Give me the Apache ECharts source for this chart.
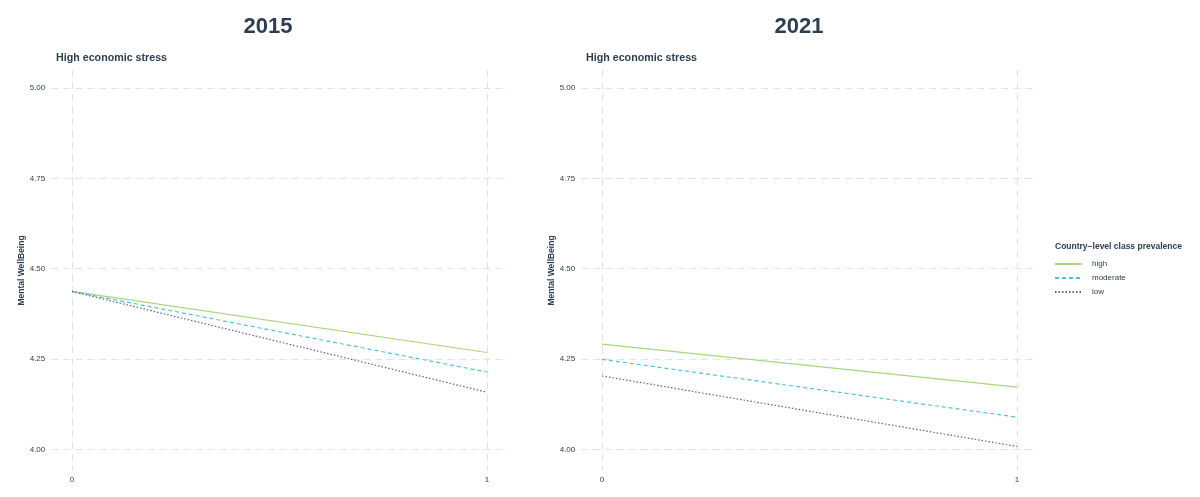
<!DOCTYPE html>
<html>
<head>
<meta charset="utf-8">
<script src="https://cdn.jsdelivr.net/npm/echarts@6/dist/echarts.min.js"></script>
<style>html,body{margin:0;padding:0;background:#fff}#c{width:1200px;height:497px}</style>
</head>
<body>
<div id="c"></div>
<script>
const panels = ['2015', '2021'];
const xValues = [0, 1];
const yTicks = [4.00, 4.25, 4.50, 4.75, 5.00];
const groups = ['high', 'moderate', 'low'];
const high2015 = [4.437, 4.268];
const moderate2015 = [4.437, 4.214];
const low2015 = [4.437, 4.158];
const high2021 = [4.291, 4.172];
const moderate2021 = [4.249, 4.089];
const low2021 = [4.203, 4.008];

const dataByPanel = [
  {high: high2015, moderate: moderate2015, low: low2015},
  {high: high2021, moderate: moderate2021, low: low2021}
];
const colors = {high: '#a9d67f', moderate: '#52c3d6', low: '#6a5a9c'};
const dash = {high: 'solid', moderate: [4, 3], low: [1.5, 2]};
const txt = '#2c3e50';
const font = 'Liberation Sans';
const gridLefts = [51.25, 581.25];
const gridW = 456.5;

const chart = echarts.init(document.getElementById('c'));
const grid = gridLefts.map(l => ({left: l, width: gridW, top: 70, height: 401}));
const xAxis = gridLefts.map((l, i) => ({
  type: 'value', gridIndex: i, min: -0.05, max: 1.05,
  axisLine: {show: false},
  axisTick: {show: false, customValues: xValues},
  axisLabel: {customValues: xValues, color: txt, fontSize: 8, margin: 5, fontFamily: font},
  splitLine: {show: true, lineStyle: {color: '#e2e2e2', type: [7, 5], width: 1}}
}));
const yAxis = gridLefts.map((l, i) => ({
  type: 'value', gridIndex: i, min: 3.94, max: 5.05,
  name: 'Mental WellBeing', nameLocation: 'middle', nameGap: 21,
  nameTextStyle: {color: txt, fontSize: 8.5, fontWeight: 'bold', fontFamily: font},
  axisLine: {show: false},
  axisTick: {show: false, customValues: yTicks},
  axisLabel: {customValues: yTicks, color: txt, fontSize: 8, margin: 6, fontFamily: font,
    formatter: v => Number(v).toFixed(2)},
  splitLine: {show: true, lineStyle: {color: '#e2e2e2', type: [7, 5], width: 1}}
}));
const series = [];
dataByPanel.forEach((d, i) => {
  groups.forEach(g => {
    series.push({
      name: g, type: 'line', xAxisIndex: i, yAxisIndex: i,
      data: xValues.map((x, k) => [x, d[g][k]]),
      symbol: 'none', silent: true,
      lineStyle: {color: colors[g], width: 1.2, type: dash[g]},
      itemStyle: {color: colors[g]}
    });
  });
});

chart.setOption({
  animation: false,
  backgroundColor: '#fff',
  title: [
    {text: panels[0], left: 268, top: 16, padding: 0, textAlign: 'center', textStyle: {color: txt, fontSize: 22, fontWeight: 'bold', fontFamily: font}},
    {text: panels[1], left: 799, top: 16, padding: 0, textAlign: 'center', textStyle: {color: txt, fontSize: 22, fontWeight: 'bold', fontFamily: font}},
    {text: 'High economic stress', left: 56, top: 53, padding: 0, textStyle: {color: txt, fontSize: 10.7, fontWeight: 'bold', fontFamily: font}},
    {text: 'High economic stress', left: 586, top: 53, padding: 0, textStyle: {color: txt, fontSize: 10.7, fontWeight: 'bold', fontFamily: font}},
    {text: 'Country\u2212level class prevalence', left: 1055, top: 242, padding: 0, textStyle: {color: txt, fontSize: 8.5, fontWeight: 'bold', fontFamily: font}}
  ],
  legend: {
    data: groups, orient: 'vertical', left: 1054, top: 260, padding: 0,
    itemWidth: 27, itemHeight: 10, itemGap: 6,
    itemStyle: {opacity: 0},
    textStyle: {color: txt, fontSize: 8, fontFamily: font, padding: [0, 0, 0, 5]},
    selectedMode: false
  },
  grid, xAxis, yAxis, series
});
</script>
</body>
</html>
